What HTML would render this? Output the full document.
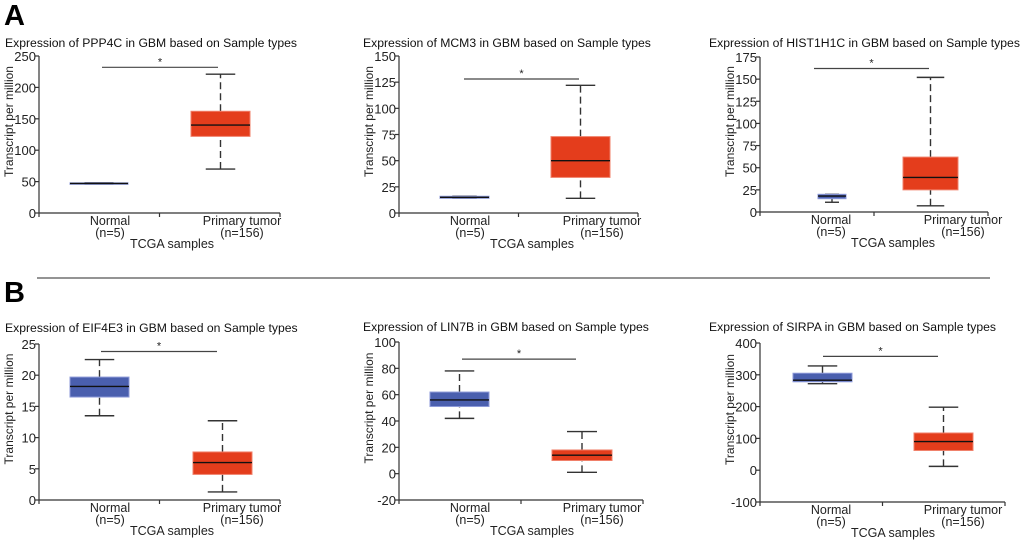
<!DOCTYPE html>
<html><head><meta charset="utf-8">
<style>
html,body{margin:0;padding:0;background:#fff;}
svg{display:block;font-family:"Liberation Sans",Arial,sans-serif;}
</style></head>
<body>
<svg id="fig" width="1020" height="541" viewBox="0 0 1020 541">
  <text x="4" y="25" font-size="29" font-weight="bold" fill="#000">A</text>
  <text x="4" y="302" font-size="29" font-weight="bold" fill="#000">B</text>
  <line x1="37" y1="278" x2="990" y2="278" stroke="#555" stroke-width="1.3"/>
</svg>
<script>
// ---- data ----
const genes = ["PPP4C","MCM3","HIST1H1C","EIF4E3","LIN7B","SIRPA"];
const normalLow  = [46, 14, 11, 13.5, 42, 272];
const normalQ1   = [46, 14, 15, 16.5, 51, 278];
const normalMed  = [47, 15, 18, 18.2, 56, 283];
const normalQ3   = [48, 16, 20, 19.7, 62, 305];
const normalHigh = [48, 16, 20, 22.5, 78, 328];
const tumorLow   = [70, 14, 7, 1.3, 1, 12];
const tumorQ1    = [122, 34, 25, 4.1, 10, 62];
const tumorMed   = [140, 50, 39, 6.0, 14, 90];
const tumorQ3    = [162, 73, 62, 7.7, 18, 117];
const tumorHigh  = [221, 122, 152, 12.7, 32, 198];
const axisMin    = [0, 0, 0, 0, -20, -100];
const axisMax    = [250, 150, 175, 25, 100, 400];
const axisStep   = [50, 25, 25, 5, 20, 100];
const sigLevel   = [232, 128, 162, 23.8, 87, 358];
const categories = ["Normal","Primary tumor"];
const sampleCounts = ["(n=5)","(n=156)"];

// ---- layout (not data) ----
const L = [
  {ax:39, top:56, bot:213, right:280, nb:[70,128], tb:[191,250], sx:[102,218], ty:47},
  {ax:399, top:56, bot:213, right:638, nb:[440,489], tb:[551,610], sx:[464,579], ty:47},
  {ax:760, top:57, bot:212, right:988, nb:[818,846], tb:[903,958], sx:[814,929], ty:47},
  {ax:39, top:344, bot:500, right:280, nb:[70,129], tb:[193,252], sx:[101,217], ty:332},
  {ax:399, top:342, bot:500, right:643, nb:[430,489], tb:[552,612], sx:[462,576], ty:331},
  {ax:760, top:343, bot:502, right:1005, nb:[793,852], tb:[914,973], sx:[823,938], ty:331}
];
const svg = document.getElementById('fig');
const NS = 'http://www.w3.org/2000/svg';
function mk(tag, attrs, parent){
  const e = document.createElementNS(NS, tag);
  for (const k in attrs) e.setAttribute(k, attrs[k]);
  (parent||svg).appendChild(e);
  return e;
}
genes.forEach((g, i) => {
  const p = L[i];
  const grp = mk('g', {});
  
  
  const y = v => p.bot - (v - axisMin[i]) / (axisMax[i] - axisMin[i]) * (p.bot - p.top);
  const t = mk('text', {x: i%3===0?5:(i%3===1?363:709), y: p.ty, 'font-size': 12.2, fill: '#111'}, grp);
  t.textContent = 'Expression of ' + g + ' in GBM based on Sample types';
  
  
  const ya = mk('line', {x1:p.ax, y1:p.top, x2:p.ax, y2:p.bot, stroke:'#333', 'stroke-width':1.2}, grp);
  
  
  for (let v = axisMin[i]; v <= axisMax[i] + 1e-9; v += axisStep[i]) {
    mk('line', {x1:p.ax-4, y1:y(v), x2:p.ax, y2:y(v), stroke:'#333', 'stroke-width':1.2}, grp);
    const tl = mk('text', {x:p.ax-3, y:y(v)+5, 'font-size':13, 'text-anchor':'end', fill:'#222'}, grp);
    tl.textContent = String(v);
    
    
  }
  const yt = mk('text', {x:0, y:0, 'font-size':12, 'text-anchor':'middle', fill:'#222',
    transform:'translate(' + (p.ax-26) + ',' + ((p.top+p.bot)/2 - 13) + ') rotate(-90)'}, grp);
  yt.textContent = 'Transcript per million';
  
  
  const xa = mk('line', {x1:p.ax, y1:p.bot, x2:p.right, y2:p.bot, stroke:'#333', 'stroke-width':1.2}, grp);
  
  
  const mid = (p.ax + p.right) / 2;
  [p.ax, mid, p.right].forEach(x => mk('line', {x1:x, y1:p.bot, x2:x, y2:p.bot+4, stroke:'#333', 'stroke-width':1.2}, grp));
  const lx = [p.ax+71, p.ax+203];
  categories.forEach((c, k) => {
    const a = mk('text', {x:lx[k], y:p.bot+12, 'font-size':12.5, 'text-anchor':'middle', fill:'#222'}, grp);
    a.textContent = c;
    
    
    const b = mk('text', {x:lx[k], y:p.bot+24, 'font-size':12.5, 'text-anchor':'middle', fill:'#222'}, grp);
    b.textContent = sampleCounts[k];
    
    
  });
  const xt = mk('text', {x:p.ax+133, y:p.bot+35, 'font-size':12.5, 'text-anchor':'middle', fill:'#222'}, grp);
  xt.textContent = 'TCGA samples';
  
  
  const boxes = [
    {bx:p.nb, s:[normalLow[i],normalQ1[i],normalMed[i],normalQ3[i],normalHigh[i]], fill:'#4a5fae', edge:'#8d9ad8', name:'box-normal'},
    {bx:p.tb, s:[tumorLow[i],tumorQ1[i],tumorMed[i],tumorQ3[i],tumorHigh[i]], fill:'#e43d1c', edge:'#f0806a', name:'box-tumor'}
  ];
  boxes.forEach(b => {
    const cx = (b.bx[0] + b.bx[1]) / 2, w = b.bx[1] - b.bx[0], cap = w / 4;
    const bg = mk('g', {}, grp);
    
    
    mk('line', {x1:cx, y1:y(b.s[0]), x2:cx, y2:y(b.s[1]), stroke:'#333', 'stroke-width':1.4, 'stroke-dasharray':'7,4'}, bg);
    mk('line', {x1:cx, y1:y(b.s[3]), x2:cx, y2:y(b.s[4]), stroke:'#333', 'stroke-width':1.4, 'stroke-dasharray':'7,4'}, bg);
    mk('line', {x1:cx-cap, y1:y(b.s[0]), x2:cx+cap, y2:y(b.s[0]), stroke:'#333', 'stroke-width':1.4}, bg);
    mk('line', {x1:cx-cap, y1:y(b.s[4]), x2:cx+cap, y2:y(b.s[4]), stroke:'#333', 'stroke-width':1.4}, bg);
    const h = Math.max(1.5, y(b.s[1]) - y(b.s[3]));
    mk('rect', {x:b.bx[0], y:y(b.s[3]), width:w, height:h, fill:b.fill, stroke:b.edge, 'stroke-width':1}, bg);
    mk('line', {x1:b.bx[0], y1:y(b.s[2]), x2:b.bx[1], y2:y(b.s[2]), stroke:'#111', 'stroke-width':1.4}, bg);
  });
  const sl = mk('line', {x1:p.sx[0], y1:y(sigLevel[i]), x2:p.sx[1], y2:y(sigLevel[i]), stroke:'#444', 'stroke-width':1.2}, grp);
  
  
  const st = mk('text', {x:(p.sx[0]+p.sx[1])/2, y:y(sigLevel[i])-2, 'font-size':11, 'text-anchor':'middle', fill:'#222'}, grp);
  st.textContent = '*';
  
  
});
</script>
</body></html>
